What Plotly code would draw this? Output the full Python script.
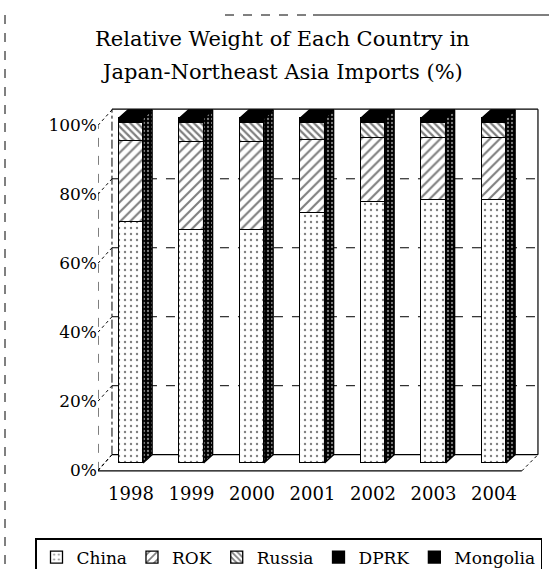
import plotly.graph_objects as go

# Share of each country in Japan's imports from Northeast Asia (%)
years = ["1998", "1999", "2000", "2001", "2002", "2003", "2004"]
china = [69.8, 67.6, 67.5, 72.5, 75.7, 76.2, 76.2]
rok = [23.5, 25.4, 25.5, 21.1, 18.5, 18.0, 18.0]
russia = [5.2, 5.5, 5.5, 4.9, 4.3, 4.3, 4.3]
dprk = [1.1, 1.0, 1.0, 1.0, 0.9, 0.8, 0.7]
mongolia = [0.4, 0.5, 0.5, 0.5, 0.6, 0.7, 0.8]
y_ticks = [0, 20, 40, 60, 80, 100]
title_lines = ["Relative Weight of Each Country in", "Japan-Northeast Asia Imports (%)"]

# ---- canvas / plot-area geometry ----
W, H = 549, 569
ML, MR, MT, MB = 98, 8, 105, 94
X_RANGE = [-0.545, 6.777]
Y_RANGE = [-3.5, 103.8]
LABEL_SHIFT = 2.1          # tick labels sit on the front edge of the floor
BAR_W = 0.4
BAR_DX, BAR_DY = 0.15, 2.4  # depth of each column
WALL_X0, WALL_X1 = -0.314, 6.727
WALL_Y0, WALL_Y1 = 2.4, 102.6
FLOOR_Y, FLOOR_X1 = -2.3, 6.46
SERIF = "DejaVu Serif"


def paper_x(px):
    return (px - ML) / (W - ML - MR)


def paper_y(py):
    return (H - MB - py) / (H - MT - MB)


xs = list(range(len(years)))
series = [
    ("China", china, dict(color="white", pattern=dict(shape=".", size=6, solidity=0.12,
                                                      fgcolor="black", bgcolor="white"))),
    ("ROK", rok, dict(color="white", pattern=dict(shape="/", size=7, solidity=0.3,
                                                  fgcolor="black", bgcolor="white"))),
    ("Russia", russia, dict(color="white", pattern=dict(shape="\\", size=5, solidity=0.45,
                                                        fgcolor="black", bgcolor="white"))),
    ("DPRK", dprk, dict(color="black")),
    ("Mongolia", mongolia, dict(color="black")),
]

fig = go.Figure()
for name, vals, marker in series:
    marker = dict(marker)
    marker["line"] = dict(color="black", width=1.3)
    fig.add_trace(go.Bar(x=xs, y=vals, name=name, width=BAR_W, marker=marker,
                         hoverinfo="skip"))

totals = [sum(v) for v in zip(china, rok, russia, dprk, mongolia)]

# right-hand side faces of the columns
sx, sy = [], []
for i, t in enumerate(totals):
    r = i + BAR_W / 2
    sx += [r, r + BAR_DX, r + BAR_DX, r, r, None]
    sy += [0, BAR_DY, t + BAR_DY, t, 0, None]
fig.add_trace(go.Scatter(
    x=sx, y=sy, mode="lines", fill="toself", fillcolor="black",
    fillpattern=dict(shape=".", size=4, solidity=0.25, fgcolor="white", bgcolor="black"),
    line=dict(color="black", width=1.3), showlegend=False, hoverinfo="skip"))

# top faces of the columns
tx, ty = [], []
for i, t in enumerate(totals):
    l, r = i - BAR_W / 2, i + BAR_W / 2
    tx += [l, r, r + BAR_DX, l + BAR_DX, l, None]
    ty += [t, t, t + BAR_DY, t + BAR_DY, t, None]
fig.add_trace(go.Scatter(
    x=tx, y=ty, mode="lines", fill="toself", fillcolor="black",
    line=dict(color="black", width=1.3), showlegend=False, hoverinfo="skip"))

# carrier for the percentage axis
fig.add_trace(go.Scatter(x=[0], y=[0], yaxis="y2", mode="markers",
                         marker=dict(opacity=0), showlegend=False, hoverinfo="skip"))

shapes = []


def seg(x0, y0, x1, y1, dash="solid", width=1.0, ref="data"):
    xr, yr = ("x", "y") if ref == "data" else ("paper", "paper")
    shapes.append(dict(type="line", xref=xr, yref=yr, x0=x0, y0=y0, x1=x1, y1=y1,
                       layer="below", line=dict(color="black", width=width, dash=dash)))


# back wall and its gridlines
seg(WALL_X0, WALL_Y1, WALL_X1, WALL_Y1, width=1.2)
seg(WALL_X1, WALL_Y0, WALL_X1, WALL_Y1, width=1.2)
seg(WALL_X0, WALL_Y0, WALL_X0, WALL_Y1, dash="dashdot", width=1.0)
seg(WALL_X0, WALL_Y0, WALL_X1, WALL_Y0, width=1.2)
for v in y_ticks[1:-1]:
    seg(WALL_X0, v + WALL_Y0, WALL_X1, v + WALL_Y0, dash="dash", width=1.0)
# floor
seg(X_RANGE[0], FLOOR_Y, FLOOR_X1, FLOOR_Y, width=1.2)
seg(X_RANGE[0], FLOOR_Y, WALL_X0, WALL_Y0, dash="dot", width=1.0)
seg(FLOOR_X1, FLOOR_Y, WALL_X1, WALL_Y0, dash="dot", width=1.0)
# front value axis with its depth ticks
seg(X_RANGE[0], FLOOR_Y, X_RANGE[0], 100 - LABEL_SHIFT, dash="dash", width=1.0)
for v in y_ticks:
    seg(X_RANGE[0], v - LABEL_SHIFT, WALL_X0, v + WALL_Y0, dash="dot", width=1.0)

# page frame remnants
seg(paper_x(225), paper_y(15), paper_x(313), paper_y(15), dash="dash", width=1.0, ref="paper")
seg(paper_x(313), paper_y(15), paper_x(549), paper_y(15), width=1.2, ref="paper")
seg(paper_x(5), paper_y(15), paper_x(5), paper_y(569), dash="dash", width=1.0, ref="paper")

# two-line chart title
annotations = [
    dict(text=line, xref="paper", yref="paper", x=paper_x(282), y=paper_y(cy),
         xanchor="center", yanchor="middle", showarrow=False,
         font=dict(family=SERIF, size=21, color="black"))
    for line, cy in zip(title_lines, [39, 72])
]

fig.update_layout(
    width=W, height=H,
    margin=dict(l=ML, r=MR, t=MT, b=MB, autoexpand=False),
    paper_bgcolor="white", plot_bgcolor="white",
    barmode="stack", bargap=0,
    font=dict(family=SERIF, color="black", size=17),
    xaxis=dict(range=X_RANGE, tickvals=xs, ticktext=years, showgrid=False, zeroline=False,
               showline=False, ticks="", ticklabelstandoff=6,
               tickfont=dict(family=SERIF, size=18, color="black")),
    yaxis=dict(range=Y_RANGE, showgrid=False, zeroline=False, showline=False,
               showticklabels=False, ticks=""),
    yaxis2=dict(range=[Y_RANGE[0] + LABEL_SHIFT, Y_RANGE[1] + LABEL_SHIFT], overlaying="y",
                side="left", tickvals=y_ticks, ticktext=[f"{v}%" for v in y_ticks],
                showgrid=False, zeroline=False, showline=False, ticks="",
                tickfont=dict(family=SERIF, size=17, color="black")),
    legend=dict(orientation="h", x=paper_x(35), y=paper_y(538), xanchor="left",
                yanchor="top", bordercolor="black", borderwidth=1.5, bgcolor="white",
                traceorder="normal",
                font=dict(family=SERIF, size=17, color="black"),
                itemclick=False, itemdoubleclick=False),
    shapes=shapes,
    annotations=annotations,
    showlegend=True,
)

fig.write_html("out.html")
